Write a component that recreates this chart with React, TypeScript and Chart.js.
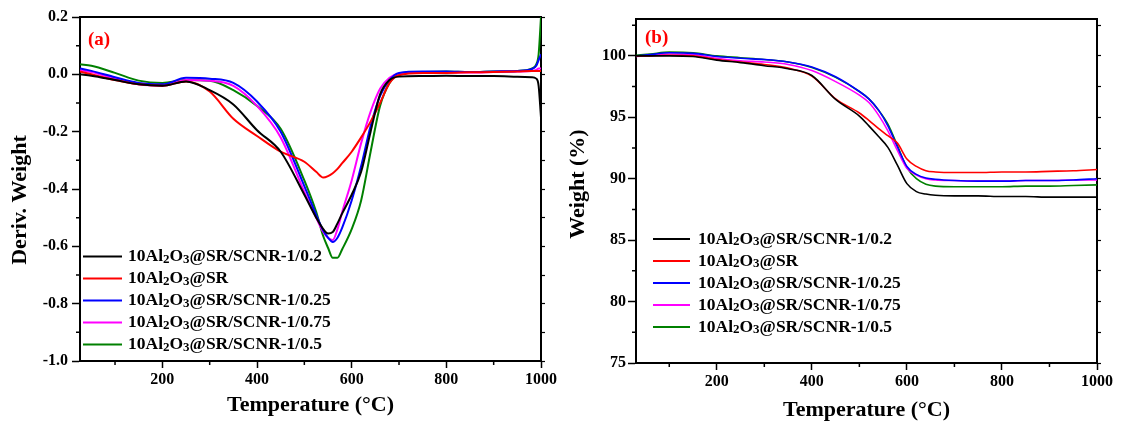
import React, { useEffect, useRef } from "react";
import { Chart, registerables } from "chart.js";

Chart.register(...registerables);

const FONT = "'Liberation Serif', 'Times New Roman', Times, serif";

// ---------- data ----------
const SERIES_LABELS = [
  "10Al₂O₃@SR/SCNR-1/0.2",
  "10Al₂O₃@SR",
  "10Al₂O₃@SR/SCNR-1/0.25",
  "10Al₂O₃@SR/SCNR-1/0.75",
  "10Al₂O₃@SR/SCNR-1/0.5",
];
const SERIES_COLORS = ["#000000", "#ff0000", "#0000ff", "#ff00ff", "#008000"];

// (a) DTG curves
const DTG_TEMP = [26, 50, 100, 150, 200, 250, 300, 350, 400, 450, 500, 525, 540, 550, 560, 570, 580, 600, 620, 640, 660, 680, 700, 750, 800, 850, 900, 950, 980, 990, 995, 1000];
const DTG_02 = [0.0, -0.005, -0.02, -0.035, -0.04, -0.025, -0.055, -0.105, -0.195, -0.27, -0.42, -0.5, -0.54, -0.555, -0.55, -0.52, -0.485, -0.42, -0.34, -0.2, -0.07, -0.02, -0.008, -0.006, -0.005, -0.006, -0.006, -0.008, -0.01, -0.015, -0.04, -0.15];
const DTG_SR = [0.01, 0.0, -0.02, -0.035, -0.04, -0.025, -0.06, -0.155, -0.215, -0.27, -0.305, -0.34, -0.36, -0.355, -0.345, -0.33, -0.31, -0.27, -0.22, -0.165, -0.1, -0.03, -0.003, 0.005, 0.005, 0.007, 0.008, 0.01, 0.012, 0.012, 0.012, 0.012];
const DTG_025 = [0.02, 0.012, -0.01, -0.03, -0.035, -0.012, -0.015, -0.03, -0.095, -0.2, -0.39, -0.49, -0.545, -0.57, -0.585, -0.57, -0.535, -0.44, -0.32, -0.18, -0.075, -0.02, 0.005, 0.01, 0.01, 0.008, 0.01, 0.012, 0.018, 0.03, 0.05, 0.07];
const DTG_075 = [0.015, 0.008, -0.015, -0.035, -0.04, -0.02, -0.022, -0.04, -0.11, -0.22, -0.41, -0.5, -0.55, -0.57, -0.578, -0.54, -0.48, -0.37, -0.24, -0.13, -0.05, -0.012, 0.003, 0.006, 0.006, 0.006, 0.008, 0.01, 0.012, 0.015, 0.02, 0.02];
const DTG_05 = [0.035, 0.03, 0.005, -0.022, -0.03, -0.02, -0.022, -0.055, -0.11, -0.19, -0.37, -0.48, -0.565, -0.605, -0.64, -0.64, -0.61, -0.54, -0.44, -0.27, -0.11, -0.03, 0.0, 0.008, 0.01, 0.008, 0.01, 0.012, 0.02, 0.035, 0.07, 0.2];

// (b) TGA curves
const TGA_TEMP = [30, 60, 100, 150, 200, 250, 300, 350, 400, 450, 500, 520, 540, 560, 580, 600, 620, 640, 660, 700, 750, 800, 850, 900, 950, 1000];
const TGA_02 = [100.0, 100.0, 100.0, 99.95, 99.65, 99.45, 99.2, 98.95, 98.4, 96.45, 95.1, 94.3, 93.45, 92.55, 91.1, 89.6, 88.95, 88.75, 88.65, 88.6, 88.6, 88.55, 88.55, 88.5, 88.5, 88.5];
const TGA_SR = [100.0, 100.0, 100.05, 100.0, 99.7, 99.5, 99.3, 99.0, 98.35, 96.5, 95.35, 94.75, 94.1, 93.5, 92.9, 91.6, 91.0, 90.65, 90.55, 90.5, 90.5, 90.55, 90.55, 90.6, 90.65, 90.75];
const TGA_025 = [100.0, 100.1, 100.25, 100.2, 99.95, 99.8, 99.7, 99.5, 99.1, 98.3, 97.1, 96.5, 95.6, 94.3, 92.6, 91.0, 90.35, 90.05, 89.95, 89.85, 89.8, 89.8, 89.85, 89.85, 89.9, 90.0];
const TGA_075 = [99.95, 100.0, 100.15, 100.1, 99.8, 99.6, 99.5, 99.3, 98.8, 97.9, 96.8, 96.2, 95.2, 93.9, 92.3, 90.85, 90.3, 90.0, 89.9, 89.85, 89.8, 89.8, 89.85, 89.85, 89.9, 89.9];
const TGA_05 = [100.05, 100.15, 100.3, 100.25, 100.0, 99.85, 99.7, 99.5, 99.05, 98.25, 97.1, 96.5, 95.6, 94.45, 92.7, 90.9, 90.0, 89.55, 89.4, 89.35, 89.35, 89.35, 89.4, 89.4, 89.45, 89.5];

// ticks
const X_TICKS = [200, 400, 600, 800, 1000];
const X_MINOR = [100, 300, 500, 700, 900];
const DTG_Y_TICKS = [-1.0, -0.8, -0.6, -0.4, -0.2, 0.0, 0.2];
const DTG_Y_MINOR = [-0.9, -0.7, -0.5, -0.3, -0.1, 0.1];
const TGA_Y_TICKS = [75, 80, 85, 90, 95, 100];
const TGA_Y_MINOR = [77.5, 82.5, 87.5, 92.5, 97.5, 102.5];

const X_TITLE = "Temperature (°C)";
const DTG_Y_TITLE = "Deriv. Weight";
const TGA_Y_TITLE = "Weight (%)";

// ---------- drawing helpers ----------
const SUBS: Record<string, string> = { "₂": "2", "₃": "3" };

function drawRichLabel(ctx: CanvasRenderingContext2D, label: string, x: number, y: number, size: number) {
  let cx = x;
  let run = "";
  const flush = () => {
    if (!run) return;
    ctx.font = `bold ${size}px ${FONT}`;
    ctx.fillText(run, cx, y);
    cx += ctx.measureText(run).width;
    run = "";
  };
  for (const ch of label) {
    if (SUBS[ch]) {
      flush();
      const s = Math.round(size * 0.72);
      ctx.font = `bold ${s}px ${FONT}`;
      ctx.fillText(SUBS[ch], cx, y + size * 0.16);
      cx += ctx.measureText(SUBS[ch]).width;
    } else {
      run += ch;
    }
  }
  flush();
}

type Panel = {
  W: number;
  H: number;
  area: { l: number; r: number; t: number; b: number };
  xMin: number;
  xMax: number;
  yMin: number;
  yMax: number;
  temps: number[];
  values: number[][];
  yTicks: number[];
  yMinor: number[];
  yFmt: (v: number) => string;
  yTickPad: number;
  lineWidth: number;
  yTitle: string;
  yTitleX: number;
  yTitleY: number;
  xTitleY: number;
  tag: string;
  tagX: number;
  tagY: number;
  legX: number;
  legLen: number;
  legTextX: number;
  legY: number;
};

function decorPlugin(p: Panel) {
  return {
    id: "decor",
    afterDraw(chart: any) {
      const ctx: CanvasRenderingContext2D = chart.ctx;
      const xs = chart.scales.x;
      const ys = chart.scales.y;
      const { left, right, bottom } = chart.chartArea;
      ctx.save();
      // minor ticks
      ctx.strokeStyle = "#000";
      ctx.lineWidth = 1.5;
      ctx.beginPath();
      X_MINOR.forEach((v) => {
        const px = xs.getPixelForValue(v);
        ctx.moveTo(px, bottom);
        ctx.lineTo(px, bottom + 4);
      });
      p.yMinor.forEach((v) => {
        if (v > p.yMax || v < p.yMin) return;
        const py = ys.getPixelForValue(v);
        ctx.moveTo(left - 4, py);
        ctx.lineTo(left, py);
      });
      ctx.stroke();
      // axis titles
      ctx.fillStyle = "#000";
      ctx.font = `bold 22px ${FONT}`;
      ctx.textAlign = "center";
      ctx.textBaseline = "middle";
      ctx.fillText(X_TITLE, (left + right) / 2, p.xTitleY);
      ctx.save();
      ctx.translate(p.yTitleX, p.yTitleY);
      ctx.rotate(-Math.PI / 2);
      ctx.fillText(p.yTitle, 0, 0);
      ctx.restore();
      // panel tag
      ctx.fillStyle = "#ff0000";
      ctx.font = `bold 19px ${FONT}`;
      ctx.textAlign = "left";
      ctx.fillText(p.tag, p.tagX, p.tagY);
      // legend
      chart.data.datasets.forEach((ds: any, i: number) => {
        const y = p.legY + i * 22;
        ctx.strokeStyle = ds.borderColor;
        ctx.lineWidth = 2;
        ctx.beginPath();
        ctx.moveTo(p.legX, y);
        ctx.lineTo(p.legX + p.legLen, y);
        ctx.stroke();
        ctx.fillStyle = "#000";
        ctx.textAlign = "left";
        ctx.textBaseline = "middle";
        drawRichLabel(ctx, ds.label, p.legTextX, y, 17.5);
      });
      ctx.restore();
    },
  };
}

function buildChart(canvas: HTMLCanvasElement, p: Panel) {
  const datasets = p.values.map((vals, si) => ({
    label: SERIES_LABELS[si],
    data: p.temps.map((t, i) => ({ x: t, y: vals[i] })),
    borderColor: SERIES_COLORS[si],
    backgroundColor: SERIES_COLORS[si],
    borderWidth: p.lineWidth,
    pointRadius: 0,
    cubicInterpolationMode: "monotone" as const,
    fill: false,
    xAxisID: "x",
    yAxisID: "y",
  }));
  const tickFont = { family: FONT, size: 16, weight: "bold" as const };
  const border = { display: true, color: "#000", width: 2 };
  const mirrorY = [...p.yTicks, ...p.yMinor].filter((v) => v <= p.yMax && v >= p.yMin).sort((a, b) => a - b);
  return new Chart(canvas, {
    type: "line",
    data: { datasets },
    plugins: [decorPlugin(p)],
    options: {
      responsive: false,
      animation: false,
      devicePixelRatio: 1,
      layout: { padding: 0 },
      plugins: { legend: { display: false }, tooltip: { enabled: false } },
      scales: {
        x: {
          type: "linear",
          position: "bottom",
          min: p.xMin,
          max: p.xMax,
          afterBuildTicks: (s: any) => {
            s.ticks = X_TICKS.map((v) => ({ value: v }));
          },
          afterFit: (s: any) => {
            s.height = p.H - p.area.b;
          },
          ticks: { font: tickFont, color: "#000", padding: 2, maxRotation: 0, autoSkip: false, callback: (v: any) => String(v) },
          grid: { drawOnChartArea: false, tickLength: 7, tickWidth: 1.5, tickColor: "#000" },
          border,
        },
        x2: {
          type: "linear",
          position: "top",
          min: p.xMin,
          max: p.xMax,
          afterFit: (s: any) => {
            s.height = p.area.t;
          },
          ticks: { display: false },
          grid: { drawOnChartArea: false, drawTicks: false },
          border,
        },
        y: {
          type: "linear",
          position: "left",
          min: p.yMin,
          max: p.yMax,
          afterBuildTicks: (s: any) => {
            s.ticks = p.yTicks.map((v) => ({ value: v }));
          },
          afterFit: (s: any) => {
            s.width = p.area.l;
          },
          ticks: { font: tickFont, color: "#000", padding: p.yTickPad, autoSkip: false, callback: (v: any) => p.yFmt(Number(v)) },
          grid: { drawOnChartArea: false, tickLength: 8, tickWidth: 1.5, tickColor: "#000" },
          border,
        },
        y2: {
          type: "linear",
          position: "right",
          min: p.yMin,
          max: p.yMax,
          afterBuildTicks: (s: any) => {
            s.ticks = mirrorY.map((v) => ({ value: v }));
          },
          afterFit: (s: any) => {
            s.width = p.W - p.area.r;
          },
          ticks: { display: false },
          grid: { drawOnChartArea: false, tickLength: 4, tickWidth: 1.2, tickColor: "#000" },
          border,
        },
      },
    } as any,
  });
}

const PANEL_A: Panel = {
  W: 560,
  H: 428,
  area: { l: 80, r: 541, t: 17, b: 361 },
  xMin: 26,
  xMax: 1000,
  yMin: -1.0,
  yMax: 0.2,
  temps: DTG_TEMP,
  values: [DTG_02, DTG_SR, DTG_025, DTG_075, DTG_05],
  yTicks: DTG_Y_TICKS,
  yMinor: DTG_Y_MINOR,
  yFmt: (v) => v.toFixed(1),
  yTickPad: 4,
  lineWidth: 2,
  yTitle: DTG_Y_TITLE,
  yTitleX: 20,
  yTitleY: 200,
  xTitleY: 405,
  tag: "(a)",
  tagX: 88,
  tagY: 40,
  legX: 83,
  legLen: 39,
  legTextX: 128,
  legY: 256.5,
};

const PANEL_B: Panel = {
  W: 561,
  H: 428,
  area: { l: 76, r: 537, t: 19, b: 363 },
  xMin: 30,
  xMax: 1000,
  yMin: 75,
  yMax: 103,
  temps: TGA_TEMP,
  values: [TGA_02, TGA_SR, TGA_025, TGA_075, TGA_05],
  yTicks: TGA_Y_TICKS,
  yMinor: TGA_Y_MINOR,
  yFmt: (v) => String(v),
  yTickPad: 2,
  lineWidth: 1.6,
  yTitle: TGA_Y_TITLE,
  yTitleX: 18,
  yTitleY: 184,
  xTitleY: 410,
  tag: "(b)",
  tagX: 85,
  tagY: 38,
  legX: 93,
  legLen: 37,
  legTextX: 138,
  legY: 239,
};

function ChartPanel({ panel, left }: { panel: Panel; left: number }) {
  const ref = useRef<HTMLCanvasElement | null>(null);
  useEffect(() => {
    if (!ref.current) return;
    const chart = buildChart(ref.current, panel);
    return () => chart.destroy();
  }, [panel]);
  return (
    <canvas
      ref={ref}
      width={panel.W}
      height={panel.H}
      style={{ position: "absolute", left, top: 0, width: panel.W, height: panel.H, display: "block" }}
    />
  );
}

export default function App() {
  return (
    <div style={{ position: "absolute", left: 0, top: 0, width: 1121, height: 428, background: "#fff", overflow: "hidden" }}>
      <ChartPanel panel={PANEL_A} left={0} />
      <ChartPanel panel={PANEL_B} left={560} />
    </div>
  );
}
